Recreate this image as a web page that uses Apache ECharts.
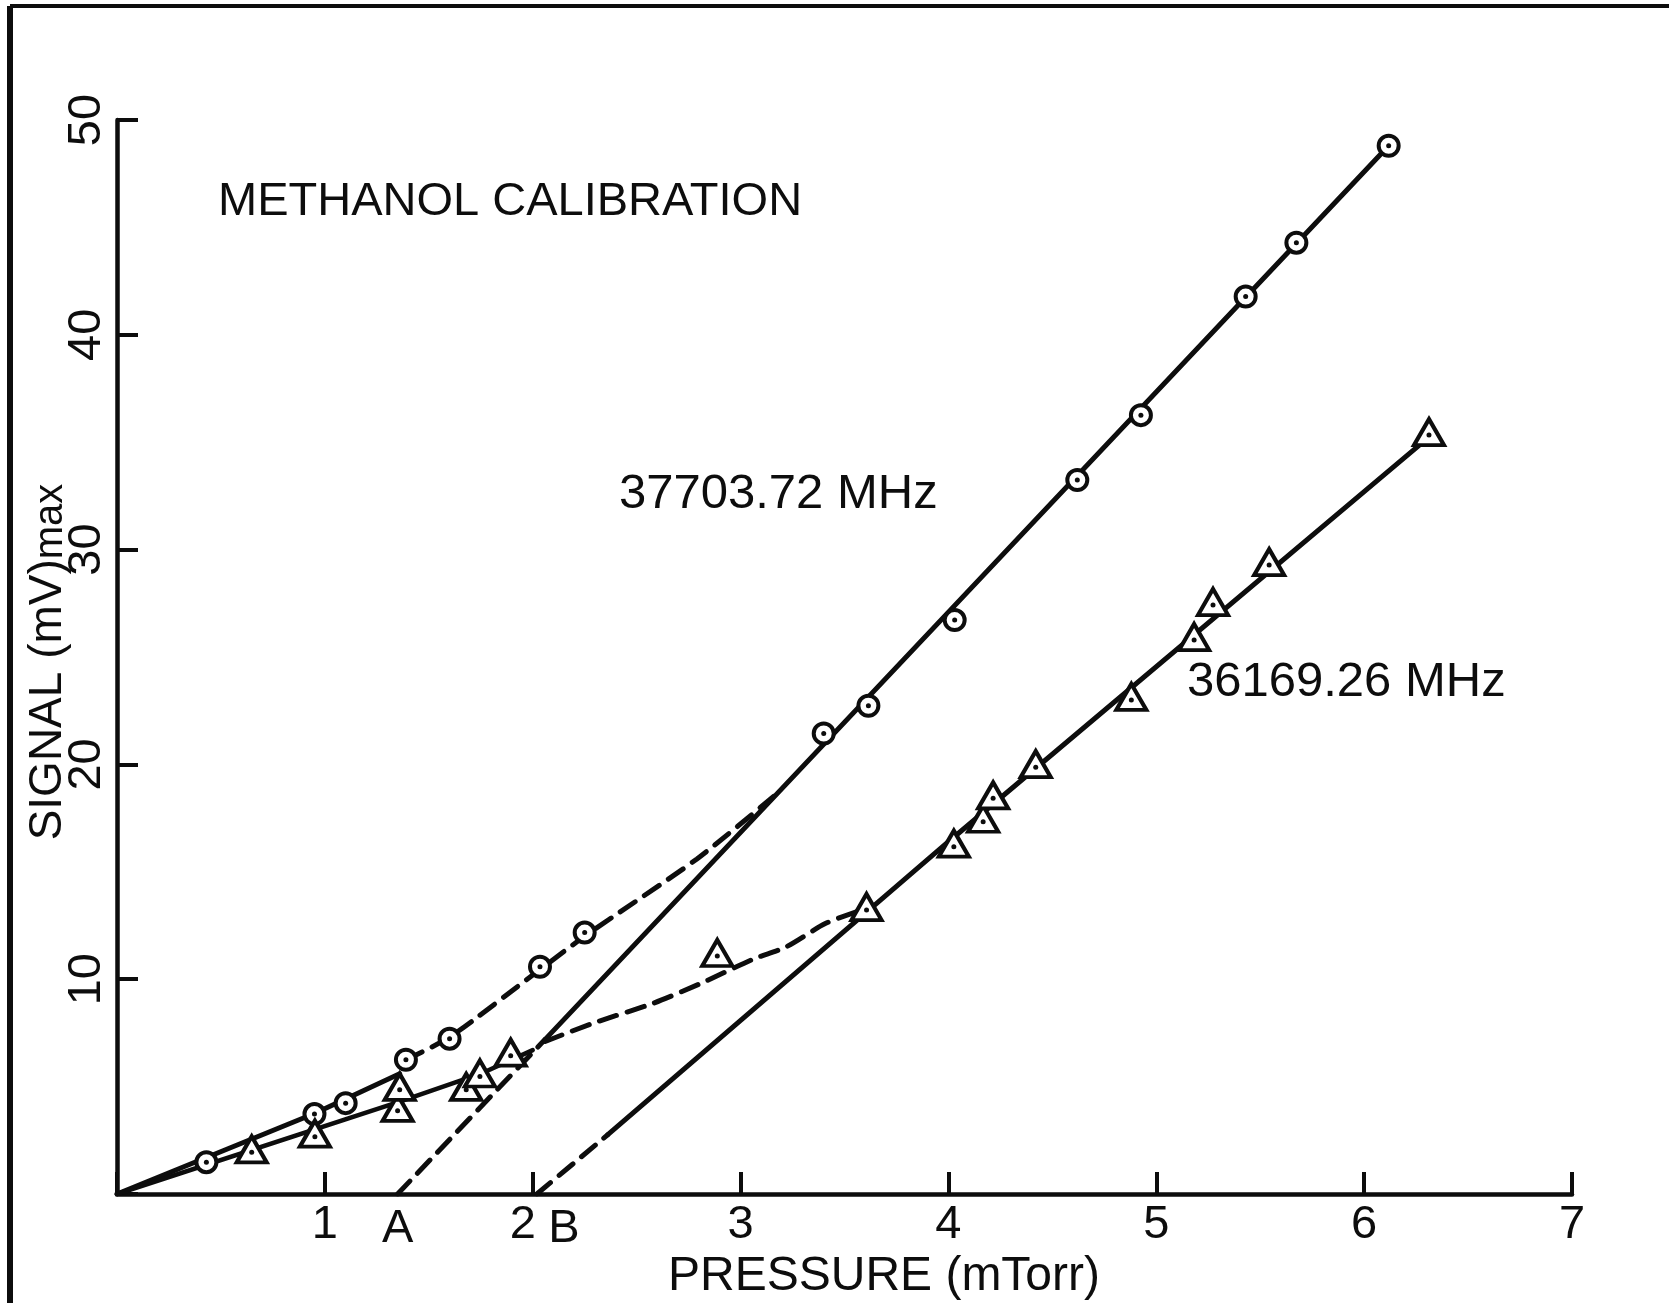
<!DOCTYPE html>
<html>
<head>
<meta charset="utf-8">
<script src="https://cdn.jsdelivr.net/npm/echarts@6/dist/echarts.min.js"></script>
<style>
html,body{margin:0;padding:0;background:#fff;}
#chart{width:1669px;height:1303px;}
</style>
</head>
<body>
<div id="chart"></div>
<script>
// ---- data ----
var xTicks = [0, 1, 2, 3, 4, 5, 6, 7];
var yTicks = [0, 10, 20, 30, 40, 50];

// 37703.72 MHz measurements (circles)
var circlePoints = [
  [0.43, 1.48], [0.95, 3.72], [1.10, 4.23], [1.39, 6.25], [1.60, 7.23],
  [2.035, 10.58], [2.25, 12.17], [3.40, 21.44], [3.615, 22.73], [4.03, 26.72],
  [4.62, 33.24], [4.926, 36.26], [5.43, 41.78], [5.674, 44.29], [6.118, 48.8]
];
// 36169.26 MHz measurements (triangles)
var trianglePoints = [
  [0.648, 1.94], [0.952, 2.67], [1.35, 3.87], [1.36, 4.85], [1.68, 4.85],
  [1.746, 5.47], [1.894, 6.44], [2.888, 11.08], [3.606, 13.22], [4.026, 16.17],
  [4.167, 17.33], [4.215, 18.42], [4.42, 19.87], [4.88, 23.0], [5.182, 25.79],
  [5.273, 27.42], [5.543, 29.28], [6.312, 35.33]
];

// drawn curves (hand-drawn fits in the reference)
var circleLowSolid = [[0, 0], [0.95, 3.75], [1.36, 5.6]];
var circleMidDashed = [[1.39, 6.25], [1.60, 7.3], [2.035, 10.45], [2.25, 12.0], [2.79, 15.6], [3.17, 18.6]];
var steepDashed = [[1.35, 0], [2.06, 7.2]];
var steepSolid = [[2.06, 7.2], [6.118, 48.8]];
var triLowSolid = [[0, 0], [1.36, 4.3], [1.75, 5.6], [2.0, 6.7]];
var triMidDashed = [[2.06, 7.1], [2.29, 7.95], [2.58, 8.88], [2.81, 9.81], [3.06, 10.93], [3.22, 11.51], [3.41, 12.6], [3.606, 13.3]];
var rightDashed = [[2.02, 0], [2.36, 2.75]];
var rightSolid = [[2.36, 2.75], [4.0, 16.4], [6.27, 34.9]];

// intercept markers on the pressure axis
var interceptNames = ['A', 'B'];
var interceptValues = [1.35, 2.15];

var titleText = 'METHANOL CALIBRATION';
var series1Name = '37703.72 MHz';
var series2Name = '36169.26 MHz';
var xTitle = 'PRESSURE (mTorr)';
var yTitleMain = 'SIGNAL (mV)';
var yTitleSub = 'max';

// ---- chart ----
var FONT = '"Liberation Sans", Arial, sans-serif';
var INK = '#0d0d0d';
var chart = echarts.init(document.getElementById('chart'), null, {renderer: 'canvas'});

function lineSeries(data, dashed, w) {
  return {
    type: 'line', data: data, symbol: 'none', z: 3, smooth: dashed ? 0.25 : false,
    lineStyle: {color: INK, width: w || 5, opacity: 1, type: dashed ? [18, 11] : 'solid', cap: 'round'},
    silent: true, animation: false
  };
}

var option = {
  backgroundColor: '#fff',
  animation: false,
  grid: {left: 117, right: 97, top: 120, bottom: 109, containLabel: false},
  xAxis: {
    type: 'value', min: xTicks[0], max: xTicks[xTicks.length - 1], interval: 1,
    axisLine: {onZero: false, lineStyle: {color: INK, width: 4.5}},
    axisTick: {inside: true, length: 22, lineStyle: {color: INK, width: 4}},
    splitLine: {show: false},
    axisLabel: {
      color: INK, fontFamily: FONT, fontSize: 47, margin: 8,
      formatter: function (v) { return v === 0 ? '' : (v === 2 ? '{s|2}' : String(v)); },
      rich: {s: {fontSize: 47, fontFamily: FONT, color: INK, padding: [0, 20, 0, 0]}}
    }
  },
  yAxis: {
    type: 'value', min: yTicks[0], max: yTicks[yTicks.length - 1], interval: 10,
    axisLine: {onZero: false, lineStyle: {color: INK, width: 4.5}},
    axisTick: {inside: true, length: 21, lineStyle: {color: INK, width: 4}},
    splitLine: {show: false},
    axisLabel: {
      color: INK, fontFamily: FONT, fontSize: 47, margin: 6, rotate: 90,
      formatter: function (v) { return v === 0 ? '' : String(v); }
    }
  },
  series: [
    lineSeries(circleLowSolid, false),
    lineSeries(circleMidDashed, true),
    lineSeries(steepDashed, true),
    lineSeries(steepSolid, false),
    lineSeries(triLowSolid, false, 4.5),
    lineSeries(triMidDashed, true),
    lineSeries(rightDashed, true),
    lineSeries(rightSolid, false),
    {
      type: 'scatter', data: circlePoints, symbol: 'circle', symbolSize: 20, z: 5,
      itemStyle: {color: '#fff', borderColor: INK, borderWidth: 4, opacity: 1}, silent: true
    },
    {
      type: 'scatter', data: circlePoints, symbol: 'circle', symbolSize: 5, z: 6,
      itemStyle: {color: INK, opacity: 1}, silent: true
    },
    {
      type: 'scatter', data: trianglePoints, symbol: 'triangle', symbolSize: [30, 26],
      symbolOffset: [0, -3], z: 5,
      itemStyle: {color: '#fff', borderColor: INK, borderWidth: 4, opacity: 1}, silent: true
    },
    {
      type: 'scatter', data: trianglePoints, symbol: 'circle', symbolSize: 5, z: 6,
      itemStyle: {color: INK, opacity: 1}, silent: true
    },
    {
      type: 'scatter', symbolSize: 0, z: 6, silent: true,
      itemStyle: {opacity: 1},
      data: interceptNames.map(function (n, i) { return {name: n, value: [interceptValues[i], 0]}; }),
      label: {
        show: true, position: 'bottom', distance: 12, formatter: '{b}',
        color: INK, fontFamily: FONT, fontSize: 47, opacity: 1
      }
    }
  ],
  graphic: [
    {type: 'line', shape: {x1: 10, y1: 6, x2: 10, y2: 1303}, style: {stroke: INK, lineWidth: 6}, silent: true},
    {type: 'line', shape: {x1: 10, y1: 6, x2: 1669, y2: 6}, style: {stroke: INK, lineWidth: 4}, silent: true},
    {type: 'text', left: 218, top: 179, silent: true,
      style: {text: titleText, fill: INK, font: '47px ' + FONT}},
    {type: 'text', left: 619, top: 470, silent: true,
      style: {text: series1Name, fill: INK, font: '49px ' + FONT}},
    {type: 'text', left: 1187, top: 658, silent: true,
      style: {text: series2Name, fill: INK, font: '49px ' + FONT}},
    {type: 'text', x: 884, y: 1277, silent: true,
      style: {text: xTitle, fill: INK, font: '48px ' + FONT, textAlign: 'center', textVerticalAlign: 'middle'}},
    {type: 'text', x: 48, y: 662, rotation: Math.PI / 2, silent: true,
      style: {
        text: '{a|' + yTitleMain + '}{b|' + yTitleSub + '}',
        textAlign: 'center', textVerticalAlign: 'middle',
        rich: {
          a: {fontSize: 46, fontFamily: FONT, fill: INK, lineHeight: 46, verticalAlign: 'top'},
          b: {fontSize: 40, fontFamily: FONT, fill: INK, lineHeight: 40, padding: [14, 0, 0, 0], verticalAlign: 'bottom'}
        }
      }}
  ]
};
chart.setOption(option);
</script>
</body>
</html>
